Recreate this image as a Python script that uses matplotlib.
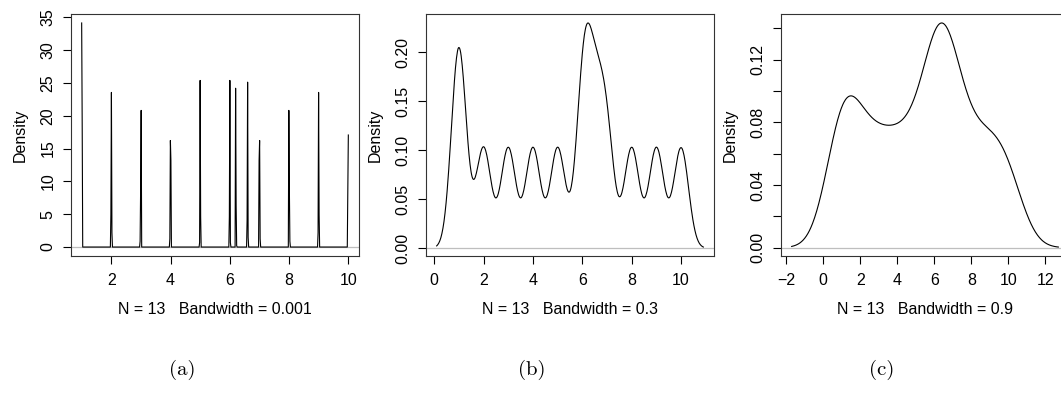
import numpy as np
import matplotlib
matplotlib.use("Agg")
import matplotlib.pyplot as plt

# the 13 observations behind all three panels
obs = [1, 1, 2, 3, 4, 5, 6, 6.2, 6.6, 7, 8, 9, 10]
bandwidths = [0.001, 0.3, 0.9]
bw_text = ["0.001", "0.3", "0.9"]
panel_tags = ["(a)", "(b)", "(c)"]

x_ticks = [[2, 4, 6, 8, 10],
           [0, 2, 4, 6, 8, 10],
           [-2, 0, 2, 4, 6, 8, 10, 12]]
x_labels = [[str(t).replace("-", "\u2212") for t in ticks] for ticks in x_ticks]
y_ticks = [[0, 5, 10, 15, 20, 25, 30, 35],
           [0, 0.05, 0.10, 0.15, 0.20],
           [0, 0.02, 0.04, 0.06, 0.08, 0.10, 0.12, 0.14]]
y_labels = [["0", "5", "10", "15", "20", "25", "30", "35"],
            ["0.00", "0.05", "0.10", "0.15", "0.20"],
            ["0.00", "", "0.04", "", "0.08", "", "0.12", ""]]

FONT = "Liberation Sans"
FS = 11.5


def r_density(x, bw, n=512, cut=3):
    ''' Gaussian kernel density computed the way R's density() does it:
        linear binning, FFT convolution, then interpolation to n points '''
    x = np.asarray(x, dtype=float)
    nx = len(x)
    lo_from = x.min() - cut * bw
    hi_to = x.max() + cut * bw
    lo = lo_from - 4 * bw
    up = hi_to + 4 * bw

    # BinDist
    y = np.zeros(2 * n)
    xdelta = (up - lo) / (n - 1)
    w = 1.0 / nx
    for xi in x:
        xpos = (xi - lo) / xdelta
        ix = int(np.floor(xpos))
        fx = xpos - ix
        if 0 <= ix <= n - 2:
            y[ix] += w * (1 - fx)
            y[ix + 1] += w * fx
        elif ix == -1:
            y[0] += w * fx
        elif ix == n - 1:
            y[ix] += w * (1 - fx)

    kords = np.linspace(0, 2 * (up - lo), 2 * n)
    kords[n + 1:] = -kords[n - 1:0:-1]
    kords = np.exp(-0.5 * (kords / bw) ** 2) / (bw * np.sqrt(2 * np.pi))
    conv = np.fft.ifft(np.fft.fft(y) * np.conj(np.fft.fft(kords)))
    dens = np.maximum(0, np.real(conv)[:n])
    xords = np.linspace(lo, up, n)
    xs = np.linspace(lo_from, hi_to, n)
    return xs, np.interp(xs, xords, dens)


fig = plt.figure(figsize=(10.61, 3.93), dpi=100)
W, H = 1061.0, 393.0
lefts = [71, 426, 781]
box_w, box_top, box_bot = 288, 14, 256

for i in range(3):
    ax = fig.add_axes([lefts[i] / W, (H - box_bot) / H,
                       box_w / W, (box_bot - box_top) / H])
    xs, ys = r_density(obs, bandwidths[i])

    ax.axhline(0, color="#bebebe", lw=0.9, zorder=1)
    ax.plot(xs, ys, color="black", lw=0.8, zorder=2)

    # R style 4% padding on both axes
    xr = xs[-1] - xs[0]
    ax.set_xlim(xs[0] - 0.04 * xr, xs[-1] + 0.04 * xr)
    yr = ys.max() - ys.min()
    ax.set_ylim(ys.min() - 0.04 * yr, ys.max() + 0.04 * yr)

    ax.set_xticks(x_ticks[i])
    ax.set_xticklabels(x_labels[i], fontfamily=FONT, fontsize=FS)
    ax.set_yticks(y_ticks[i])
    ax.set_yticklabels(y_labels[i], fontfamily=FONT, fontsize=FS,
                       rotation=90, va="center")
    ax.tick_params(direction="out", length=6, width=0.8, color="black")
    ax.tick_params(axis="x", pad=6)
    ax.tick_params(axis="y", pad=5)
    for sp in ax.spines.values():
        sp.set_linewidth(0.8)
        sp.set_color("#333333")

    ax.text(-51 / box_w, 0.5, "Density", transform=ax.transAxes,
            rotation=90, ha="center", va="center",
            fontfamily=FONT, fontsize=FS)
    ax.text(0.5, -54 / 242.0, "N = 13   Bandwidth = " + bw_text[i],
            transform=ax.transAxes, ha="center", va="center",
            fontfamily=FONT, fontsize=FS)

    fig.text((182 + 350 * i) / W, 1 - 370 / H, panel_tags[i],
             ha="center", va="center", fontfamily="cmr10", fontsize=15)

fig.savefig("out.png", dpi=100)
